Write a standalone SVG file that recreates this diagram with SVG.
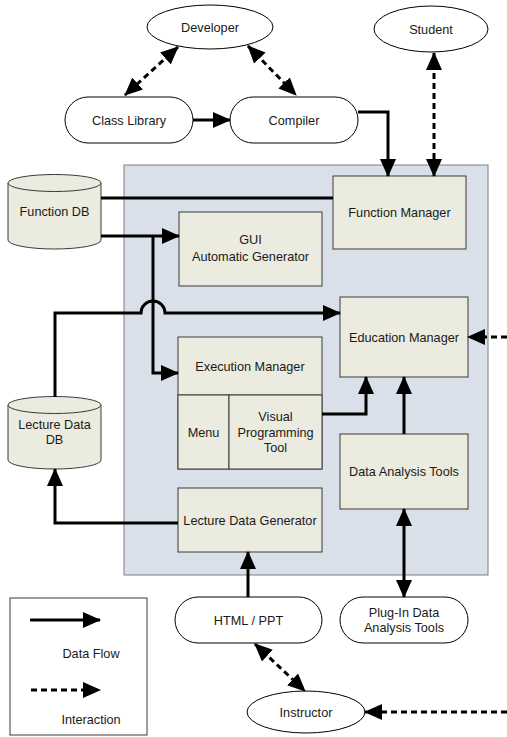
<svg xmlns="http://www.w3.org/2000/svg" width="507" height="737" viewBox="0 0 507 737">
  <style>
    text { font-family: "Liberation Sans", Arial, sans-serif; font-size: 12.7px; fill: #1a1a1a; text-anchor: middle; }
    .term { fill: #ffffff; stroke: #000000; stroke-width: 1; }
    .box { fill: #ebebdf; stroke: #3a3a3a; stroke-width: 1; }
    .db { fill: #ebebdf; stroke: #3a3a3a; stroke-width: 1; }
    .flow { fill: none; stroke: #000000; stroke-width: 3; }
    .inter { fill: none; stroke: #000000; stroke-width: 3; stroke-dasharray: 6 4; }
  </style>
  <defs>
    <marker id="head" markerUnits="userSpaceOnUse" markerWidth="18" markerHeight="16" refX="17" refY="8" orient="auto-start-reverse">
      <path d="M0,0 L18,8 L0,16 z" fill="#000000"/>
    </marker>
  </defs>

  <!-- system boundary -->
  <rect id="system" x="124" y="165" width="364" height="410" fill="#dae0ea" stroke="#7f7f7f" stroke-width="1"/>

  <!-- actors and external items -->
  <g id="developer">
    <ellipse class="term" cx="210" cy="27" rx="63" ry="22"/>
    <text x="210" y="31.5">Developer</text>
  </g>
  <g id="student">
    <ellipse class="term" cx="431" cy="29" rx="57" ry="23"/>
    <text x="431" y="33.5">Student</text>
  </g>
  <g id="class-library">
    <rect class="term" x="65" y="97" width="128" height="46" rx="23" ry="23"/>
    <text x="129" y="124.5">Class Library</text>
  </g>
  <g id="compiler">
    <rect class="term" x="230" y="97" width="128" height="46" rx="23" ry="23"/>
    <text x="294" y="124.5">Compiler</text>
  </g>
  <g id="html-ppt">
    <rect class="term" x="175" y="597" width="147" height="46" rx="23" ry="23"/>
    <text x="248.5" y="624.5">HTML / PPT</text>
  </g>
  <g id="plugin-tools">
    <rect class="term" x="340" y="597" width="128" height="46" rx="23" ry="23"/>
    <text x="404" y="617">Plug-In Data</text>
    <text x="404" y="632">Analysis Tools</text>
  </g>
  <g id="instructor">
    <ellipse class="term" cx="306" cy="712" rx="59" ry="21"/>
    <text x="306" y="716.5">Instructor</text>
  </g>

  <!-- databases -->
  <g id="function-db">
    <path class="db" d="M8,183 L8,240 A46.5,9 0 0 0 101,240 L101,183"/>
    <ellipse class="db" cx="54.5" cy="183" rx="46.5" ry="8.5"/>
    <text x="54.5" y="216">Function DB</text>
  </g>
  <g id="lecture-db">
    <path class="db" d="M8,405 L8,460 A46.5,9 0 0 0 101,460 L101,405"/>
    <ellipse class="db" cx="54.5" cy="405" rx="46.5" ry="8.5"/>
    <text x="54.5" y="429">Lecture Data</text>
    <text x="54.5" y="444">DB</text>
  </g>

  <!-- components inside the system -->
  <g id="function-manager">
    <rect class="box" x="333" y="176" width="133" height="73"/>
    <text x="399.5" y="216.5">Function Manager</text>
  </g>
  <g id="gui-generator">
    <rect class="box" x="179" y="212" width="143" height="74"/>
    <text x="250.5" y="244">GUI</text>
    <text x="250.5" y="261">Automatic Generator</text>
  </g>
  <g id="education-manager">
    <rect class="box" x="340" y="297" width="128" height="80"/>
    <text x="404" y="341.5">Education Manager</text>
  </g>
  <g id="execution-manager">
    <rect class="box" x="178" y="337" width="144" height="132"/>
    <line x1="178" y1="395" x2="322" y2="395" stroke="#3a3a3a" stroke-width="1"/>
    <text x="250" y="370.5">Execution Manager</text>
  </g>
  <g id="menu">
    <rect class="box" x="178" y="395" width="51" height="74"/>
    <text x="203.5" y="436.5">Menu</text>
  </g>
  <g id="visual-programming-tool">
    <rect class="box" x="229" y="395" width="93" height="74" stroke-width="1.8" stroke="#1a1a1a"/>
    <text x="275.5" y="421">Visual</text>
    <text x="275.5" y="437">Programming</text>
    <text x="275.5" y="452">Tool</text>
  </g>
  <g id="data-analysis-tools">
    <rect class="box" x="340" y="434" width="128" height="75"/>
    <text x="404" y="476">Data Analysis Tools</text>
  </g>
  <g id="lecture-data-generator">
    <rect class="box" x="178" y="488" width="144" height="64"/>
    <text x="250" y="524.5">Lecture Data Generator</text>
  </g>

  <!-- connectors -->
  <g id="connectors">
    <path class="flow" d="M193,120 H230" marker-end="url(#head)"/>
    <path class="inter" d="M178,47 L125,95" marker-start="url(#head)" marker-end="url(#head)"/>
    <path class="inter" d="M248,46 L296,95" marker-start="url(#head)" marker-end="url(#head)"/>
    <path class="flow" d="M358,112 H388 V176" marker-end="url(#head)"/>
    <path class="inter" d="M434,53 V176" marker-start="url(#head)" marker-end="url(#head)"/>
    <path class="flow" d="M101,198 H333"/>
    <path class="flow" d="M101,236 H179" marker-end="url(#head)"/>
    <path class="flow" d="M153,236 V373 H178" marker-end="url(#head)"/>
    <path class="flow" d="M55,397 V313 H141 A12,12 0 0 1 165,313 H340" marker-end="url(#head)"/>
    <path class="flow" d="M178,523 H55 V469" marker-end="url(#head)"/>
    <path class="flow" d="M322,414 H366 V377" marker-end="url(#head)"/>
    <path class="flow" d="M404,434 V377" marker-end="url(#head)"/>
    <path class="flow" d="M404,509 V597" marker-start="url(#head)" marker-end="url(#head)"/>
    <path class="flow" d="M248,597 V552" marker-end="url(#head)"/>
    <path class="inter" d="M255,644 L305,691" marker-start="url(#head)" marker-end="url(#head)"/>
    <path class="inter" d="M507,712 H365" marker-end="url(#head)"/>
    <path class="inter" d="M507,337 H468" marker-end="url(#head)"/>
  </g>

  <!-- legend -->
  <g id="legend">
    <rect x="10" y="598" width="137" height="137" fill="#ffffff" stroke="#3a3a3a" stroke-width="1"/>
    <path class="flow" d="M30,620 H100" marker-end="url(#head)"/>
    <text x="91" y="658">Data Flow</text>
    <path class="inter" d="M31,690 H100" marker-end="url(#head)"/>
    <text x="91" y="724">Interaction</text>
  </g>
</svg>
